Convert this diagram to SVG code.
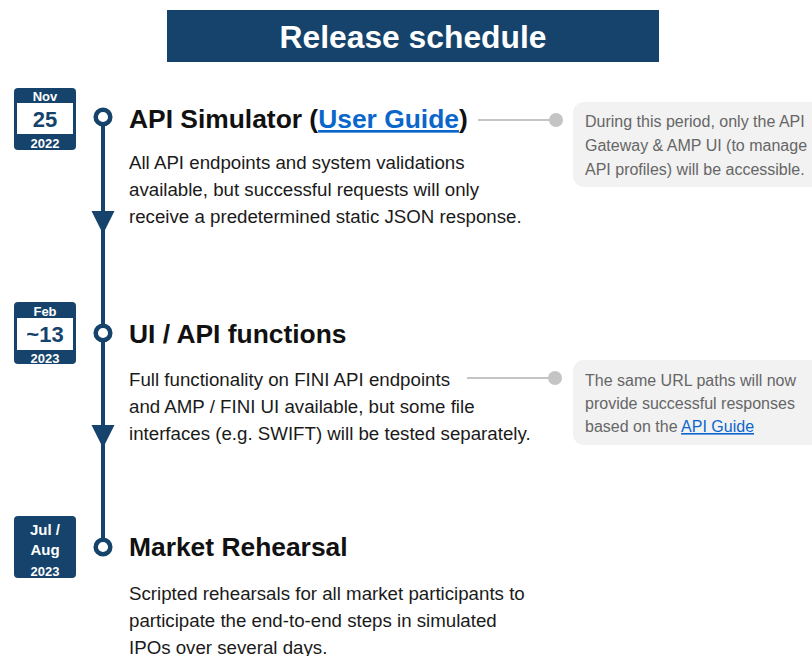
<svg xmlns="http://www.w3.org/2000/svg" width="812" height="656" viewBox="0 0 812 656">
<style>
.hdr{font-family:"Liberation Sans",Arial,sans-serif;font-weight:bold;font-size:31.8px;fill:#ffffff}
.ttl{font-family:"Liberation Sans",Arial,sans-serif;font-weight:bold;font-size:26.4px;fill:#111111}
.body{font-family:"Liberation Sans",Arial,sans-serif;font-size:18.7px;fill:#1a1a1a}
.note{font-family:"Liberation Sans",Arial,sans-serif;font-size:16px;fill:#666666}
.link{fill:#0b66cc;text-decoration:underline}
.cal{fill:#15436b}
.calw{fill:#ffffff}
.mon{font-family:"Liberation Sans",Arial,sans-serif;font-weight:bold;font-size:13px;fill:#ffffff;text-anchor:middle}
.day{font-family:"Liberation Sans",Arial,sans-serif;font-weight:bold;font-size:22px;fill:#15436b;text-anchor:middle}
.mon2{font-family:"Liberation Sans",Arial,sans-serif;font-weight:bold;font-size:15px;fill:#ffffff;text-anchor:middle}
.tl{stroke:#15436b;stroke-width:4;fill:none}
.dot{fill:#ffffff;stroke:#15436b;stroke-width:4.5}
.arr{fill:#15436b}
.gl{stroke:#c4c4c4;stroke-width:2}
.gd{fill:#c4c4c4}
.nb{fill:#f2f2f2}
</style>
<g id="header">
<rect x="167" y="10" width="492" height="52" fill="#15436b"/>
<text class="hdr" x="413" y="47.5" text-anchor="middle">Release schedule</text>
</g>
<g id="connectors">
<line class="tl" x1="103" y1="117" x2="103" y2="547"/>
<polygon class="arr" points="91.5,211 114.5,211 103,234"/>
<polygon class="arr" points="91.5,425 114.5,425 103,448"/>
<line class="gl" x1="478" y1="120" x2="556" y2="120"/>
<circle class="gd" cx="556" cy="120" r="7"/>
<line class="gl" x1="467" y1="378" x2="555" y2="378"/>
<circle class="gd" cx="555" cy="378" r="7"/>
</g>
<g id="cal1">
<rect class="cal" x="14" y="88" width="62" height="62" rx="4"/>
<rect class="calw" x="17" y="103" width="56" height="31"/>
<text class="mon" x="45" y="100.5">Nov</text>
<text class="day" x="45" y="127">25</text>
<text class="mon" x="45" y="147.5">2022</text>
</g>
<g id="cal2">
<rect class="cal" x="14" y="302" width="62" height="62" rx="4"/>
<rect class="calw" x="17" y="318" width="56" height="32"/>
<text class="mon" x="45" y="315.5">Feb</text>
<text class="day" x="45" y="342">~13</text>
<text class="mon" x="45" y="362.5">2023</text>
</g>
<g id="cal3">
<rect class="cal" x="14" y="516" width="62" height="62" rx="4"/>
<text class="mon2" x="45" y="534.5">Jul /</text>
<text class="mon2" x="45" y="554.5">Aug</text>
<text class="mon" x="45" y="575.5">2023</text>
</g>
<g id="step1">
<circle class="dot" cx="103" cy="117" r="7.3"/>
<text class="ttl" x="129" y="128">API Simulator (<tspan class="link">User Guide</tspan>)</text>
<text class="body" x="129" y="169">All API endpoints and system validations</text>
<text class="body" x="129" y="196">available, but successful requests will only</text>
<text class="body" x="129" y="223">receive a predetermined static JSON response.</text>
</g>
<g id="step2">
<circle class="dot" cx="103" cy="333" r="7.3"/>
<text class="ttl" x="129" y="343">UI / API functions</text>
<text class="body" x="129" y="386">Full functionality on FINI API endpoints</text>
<text class="body" x="129" y="413">and AMP / FINI UI available, but some file</text>
<text class="body" x="129" y="440">interfaces (e.g. SWIFT) will be tested separately.</text>
</g>
<g id="step3">
<circle class="dot" cx="103" cy="547" r="7.3"/>
<text class="ttl" x="129" y="556">Market Rehearsal</text>
<text class="body" x="129" y="600">Scripted rehearsals for all market participants to</text>
<text class="body" x="129" y="627">participate the end-to-end steps in simulated</text>
<text class="body" x="129" y="654">IPOs over several days.</text>
</g>
<g id="note1">
<rect class="nb" x="573" y="102" width="260" height="85" rx="11"/>
<text class="note" x="585" y="127">During this period, only the API</text>
<text class="note" x="585" y="151">Gateway &amp; AMP UI (to manage</text>
<text class="note" x="585" y="175">API profiles) will be accessible.</text>
</g>
<g id="note2">
<rect class="nb" x="573" y="360" width="260" height="85" rx="11"/>
<text class="note" x="585" y="386">The same URL paths will now</text>
<text class="note" x="585" y="409">provide successful responses</text>
<text class="note" x="585" y="432">based on the <tspan class="link">API Guide</tspan></text>
</g>
</svg>
